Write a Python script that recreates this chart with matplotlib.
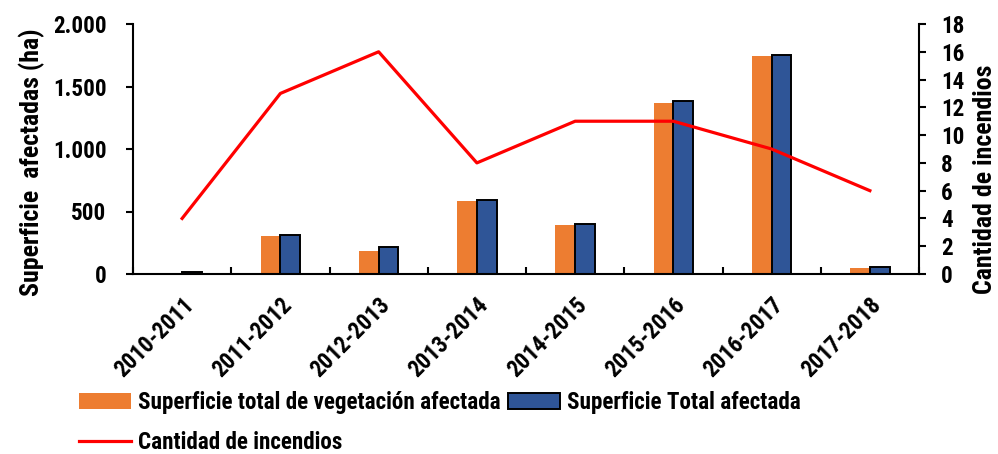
import matplotlib
matplotlib.use("Agg")
import matplotlib.pyplot as plt
import numpy as np
from matplotlib.ticker import FuncFormatter, MultipleLocator
from matplotlib import font_manager

_bold = {f.name for f in font_manager.fontManager.ttflist if f.weight in (700, 'bold')}
_fam = 'Liberation Sans'
for cand in ['Archivo Narrow', 'Roboto Condensed', 'PT Sans Narrow', 'Liberation Sans']:
    if cand in _bold:
        _fam = cand
        break
plt.rcParams['font.family'] = [_fam, 'DejaVu Sans']
plt.rcParams['font.weight'] = 'bold'

categories = ['2010-2011', '2011-2012', '2012-2013', '2013-2014', '2014-2015',
              '2015-2016', '2016-2017', '2017-2018']
veg_area = [8, 304, 184, 584, 392, 1370, 1744, 48]
total_area = [14, 310, 213, 592, 397, 1381, 1755, 56]
fires = [4, 13, 16, 8, 11, 11, 9, 6]
legend_labels = ['Superficie total de vegetación afectada', 'Cantidad de incendios',
                 'Superficie Total afectada']

W, H = 998, 454
fig = plt.figure(figsize=(W/100, H/100), dpi=100)
R = fig.canvas.get_renderer()

# calibrate font size: long legend label ~364 px wide
_t = fig.text(0, 0, legend_labels[0], fontsize=10, fontweight='bold')
FS = 10 * 364 / _t.get_window_extent(R).width
_t.remove()
FSPX = FS * 100 / 72

ax = fig.add_axes([133/W, 1-274/H, (919-133)/W, 250/H])
ax2 = ax.twinx()

x = np.arange(len(categories))
w = 0.2
b1 = ax.bar(x - w/2, veg_area, w, color='#ED7D31', edgecolor='none', zorder=2)
b2 = ax.bar(x + w/2, total_area, w, color='#2F5597', edgecolor='black', linewidth=1.4, zorder=2)
ln, = ax2.plot(x, fires, color='#FF0000', linewidth=2.3, zorder=3)

ax.set_xlim(-0.5, len(categories) - 0.5)
ax.set_ylim(0, 2000)
ax.yaxis.set_major_locator(MultipleLocator(500))
ax.yaxis.set_major_formatter(FuncFormatter(lambda v, p: f"{int(v):,}".replace(",", ".")))
ax2.set_ylim(0, 18)
ax2.yaxis.set_major_locator(MultipleLocator(2))

ax.set_xticks(np.arange(len(categories) + 1) - 0.5, minor=False)
ax.set_xticklabels([])
ax.set_xticks(x, minor=True)
ax.set_xticklabels(categories, minor=True, rotation=45, ha='right', va='top',
                   rotation_mode='anchor', fontsize=FS, fontweight='bold')
ax.tick_params(axis='x', which='major', direction='in', length=5, width=1.5)
ax.tick_params(axis='x', which='minor', length=0, pad=14)
ax.tick_params(axis='y', direction='out', length=5, width=1.5, labelsize=FS, pad=14)
ax2.tick_params(axis='y', direction='out', length=5, width=1.5, labelsize=FS, pad=11)
for lab in ax.get_yticklabels() + ax2.get_yticklabels():
    lab.set_fontweight('bold')

for a in (ax, ax2):
    a.spines['top'].set_visible(False)
    for s in ('left', 'right', 'bottom'):
        a.spines[s].set_linewidth(1.5)
ax.spines['right'].set_visible(False)
ax2.spines['left'].set_visible(False)
ax2.spines['bottom'].set_visible(False)

ax.set_ylabel('Superficie  afectadas (ha)', fontsize=FS * 1.12, fontweight='bold')
ax2.set_ylabel('Cantidad de incendios', fontsize=FS * 1.12, fontweight='bold')
ax.yaxis.set_label_coords((45 - 133) / 786, (274 - 162) / 250)
ax2.yaxis.set_label_coords((973 - 133) / 786, (274 - 179) / 250)


def make_legend(spacing, ax_px, ay_px):
    return fig.legend([b1, ln, b2], legend_labels, ncol=2, loc='upper left',
                      bbox_to_anchor=(ax_px / W, ay_px / H),
                      bbox_transform=fig.transFigure,
                      frameon=False, prop={'weight': 'bold', 'size': FS},
                      borderpad=0, borderaxespad=0,
                      handlelength=52 / FSPX, handleheight=15 / FSPX,
                      handletextpad=7 / FSPX, columnspacing=7 / FSPX,
                      labelspacing=spacing)

spacing = 0.8
leg = make_legend(spacing, 79, 70)
fig.canvas.draw()
p0 = leg.legend_handles[0].get_window_extent(R)
l0 = leg.legend_handles[1].get_window_extent(R)
dy_now = (p0.y0 + p0.y1) / 2 - (l0.y0 + l0.y1) / 2
if dy_now > 1:
    spacing = max(0.0, spacing + (40 - dy_now) / FSPX)
leg.remove()

leg = make_legend(spacing, 79, 70)
fig.canvas.draw()
p0 = leg.legend_handles[0].get_window_extent(R)
dx = 79 - p0.x0
dyc = (H - 401) - (p0.y0 + p0.y1) / 2
leg.remove()
leg = make_legend(spacing, 79 + dx, 70 + dyc)

fig.savefig('out.png', dpi=100)
